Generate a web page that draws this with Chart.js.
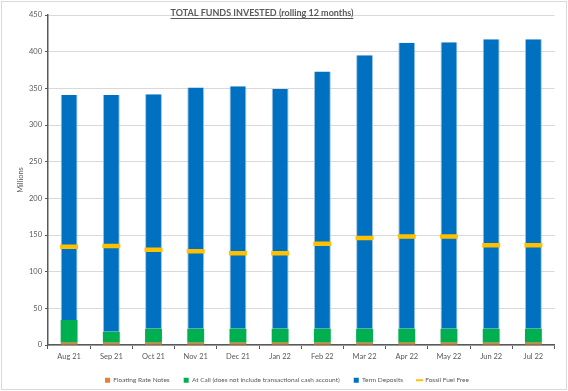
<!DOCTYPE html>
<html>
<head>
<meta charset="utf-8">
<script src="https://cdn.jsdelivr.net/npm/chart.js@4"></script>
<style>
    html, body { margin: 0; padding: 0; background: #ffffff; }
    #wrap { width: 568px; height: 391px; position: relative; }
</style>
</head>
<body>
<div id="wrap"><canvas id="chartCanvas"></canvas></div>
<script>
// Chart data (in millions)
const months = ['Aug 21', 'Sep 21', 'Oct 21', 'Nov 21', 'Dec 21', 'Jan 22', 'Feb 22', 'Mar 22', 'Apr 22', 'May 22', 'Jun 22', 'Jul 22'];
const floatingRateNotes = [3, 3, 3, 3, 3, 3, 3, 3, 3, 3, 3, 3];
const atCall = [31, 15, 19, 19, 19, 19, 19, 19, 19, 19, 19, 19];
const termDeposits = [307, 323, 320, 329, 331, 327, 351, 373, 390, 391, 395, 395];
const fossilFuelFree = [134, 135, 130, 128, 125, 125, 138, 146, 148, 148, 136, 136];
const yTicks = [0, 50, 100, 150, 200, 250, 300, 350, 400, 450];

const chartTitle = 'TOTAL FUNDS INVESTED (rolling 12 months)';
const textGrey = '#595959';
const fontFamily = 'Lato, "Open Sans", sans-serif';

// title with underline + outer frame, drawn on the canvas
const frameAndTitle = {
    id: 'frameAndTitle',
    afterDraw(chart) {
        const ctx = chart.ctx;
        ctx.save();
        ctx.strokeStyle = '#d9d9d9';
        ctx.lineWidth = 1;
        ctx.strokeRect(1.5, 1.5, chart.width - 3, chart.height - 3);

        ctx.font = 'bold 9px ' + fontFamily;
        ctx.fillStyle = textGrey;
        ctx.textAlign = 'center';
        ctx.textBaseline = 'alphabetic';
        const cx = 262;
        const y = 16;
        ctx.fillText(chartTitle, cx, y);
        const w = ctx.measureText(chartTitle).width;
        ctx.strokeStyle = textGrey;
        ctx.beginPath();
        ctx.moveTo(cx - w / 2, y + 2.5);
        ctx.lineTo(cx + w / 2, y + 2.5);
        ctx.stroke();
        ctx.restore();
    }
};

const ctx = document.getElementById('chartCanvas').getContext('2d');

const chart = new Chart(ctx, {
    type: 'bar',
    data: {
        labels: months,
        datasets: [
            {
                label: 'Floating Rate Notes',
                data: floatingRateNotes,
                backgroundColor: '#ED7D31',
                pointStyle: 'rect',
                stack: 's',
                order: 2
            },
            {
                label: 'At Call (does not include transactional cash account)',
                data: atCall,
                backgroundColor: '#00B050',
                pointStyle: 'rect',
                stack: 's',
                order: 2
            },
            {
                label: 'Term Deposits',
                data: termDeposits,
                backgroundColor: '#0070C0',
                borderColor: '#9dc3e6',
                borderWidth: { left: 1, right: 1, top: 0, bottom: 0 },
                pointStyle: 'rect',
                stack: 's',
                order: 2
            },
            {
                type: 'line',
                label: 'Fossil Fuel Free',
                data: fossilFuelFree,
                showLine: false,
                pointStyle: 'line',
                pointRadius: 9,
                pointHoverRadius: 9,
                borderColor: '#FFC000',
                backgroundColor: '#FFC000',
                borderWidth: 4.5,
                order: 1
            }
        ]
    },
    options: {
        responsive: true,
        maintainAspectRatio: false,
        animation: false,
        layout: {
            padding: { left: 16, right: 10, top: 15, bottom: 0 }
        },
        datasets: {
            bar: {
                barPercentage: 0.4,
                categoryPercentage: 1.0
            }
        },
        plugins: {
            legend: {
                position: 'bottom',
                labels: {
                    color: textGrey,
                    font: { family: fontFamily, size: 6.5 },
                    usePointStyle: true,
                    boxWidth: 5,
                    boxHeight: 5,
                    padding: 14,
                    sort: (a, b) => a.datasetIndex - b.datasetIndex,
                    generateLabels(chart) {
                        const items = Chart.defaults.plugins.legend.labels.generateLabels(chart);
                        items.forEach(item => {
                            if (item.pointStyle === 'line') {
                                item.lineWidth = 2;
                                item.strokeStyle = '#FFC000';
                            } else {
                                item.lineWidth = 0;
                            }
                        });
                        return items;
                    }
                }
            },
            tooltip: { enabled: false }
        },
        scales: {
            x: {
                stacked: true,
                grid: {
                    display: true,
                    drawOnChartArea: false,
                    drawTicks: true,
                    tickLength: 4,
                    color: '#595959'
                },
                border: { color: '#595959', width: 1.5 },
                ticks: {
                    color: textGrey,
                    font: { family: fontFamily, size: 7.5 },
                    maxRotation: 0,
                    padding: 3
                },
                afterFit(scale) { scale.height = 18; }
            },
            y: {
                stacked: true,
                min: 0,
                max: 450,
                afterBuildTicks(scale) {
                    scale.ticks = yTicks.map(v => ({ value: v }));
                },
                grid: {
                    color: '#d9d9d9',
                    drawTicks: true,
                    tickLength: 3,
                    tickColor: '#595959'
                },
                border: { color: '#595959', width: 1.5 },
                ticks: {
                    color: textGrey,
                    font: { family: fontFamily, size: 7.5 },
                    padding: 3
                },
                title: {
                    display: true,
                    text: 'Millions',
                    color: textGrey,
                    font: { family: fontFamily, size: 7.5 },
                    padding: { top: 0, bottom: 8 }
                },
                afterFit(scale) { scale.width = 32; }
            }
        }
    },
    plugins: [frameAndTitle]
});

// wide gaps between legend items but a short legend box
if (chart.legend) {
    const origFit = chart.legend.fit;
    chart.legend.fit = function () {
        origFit.call(this);
        this.height = 28;
    };
    chart.update();
}
</script>
</body>
</html>
